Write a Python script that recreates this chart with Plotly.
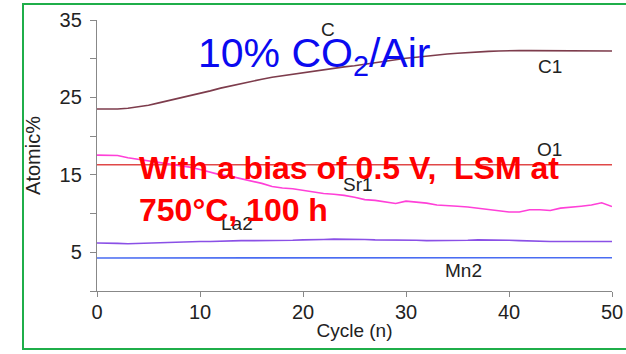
import plotly.graph_objects as go

cycles = list(range(0, 51))

c1 = [23.5, 23.5, 23.5, 23.6, 23.8, 24.0, 24.3, 24.6, 24.9, 25.2,
      25.5, 25.85, 26.2, 26.5, 26.8, 27.1, 27.35, 27.6, 27.8, 28.0,
      28.2, 28.4, 28.6, 28.8, 28.95, 29.1, 29.3, 29.5, 29.7, 29.9,
      30.05, 30.2, 30.35, 30.5, 30.6, 30.7, 30.8, 30.9, 30.95, 31.0,
      31.05, 31.05, 31.05, 31.05, 31.05, 31.0, 31.0, 31.0, 31.0, 31.0, 31.0]

o1 = [16.3] * 51

sr1 = [17.55, 17.55, 17.5, 17.2, 17.0, 16.8, 16.6, 16.4, 16.2, 16.0,
       15.7, 15.3, 15.0, 14.8, 14.5, 14.2, 13.9, 13.5, 13.3, 13.2,
       13.0, 12.8, 12.6, 12.5, 12.35, 12.1, 11.8, 11.7, 11.5, 11.3,
       11.6, 11.5, 11.35, 11.1, 11.05, 10.95, 10.85, 10.7, 10.55, 10.4,
       10.2, 10.2, 10.5, 10.5, 10.4, 10.7, 10.8, 10.95, 11.1, 11.4, 10.9]

la2 = [6.2, 6.2, 6.15, 6.1, 6.15, 6.2, 6.25, 6.3, 6.3, 6.35,
       6.4, 6.4, 6.45, 6.5, 6.5, 6.5, 6.5, 6.55, 6.55, 6.55,
       6.6, 6.6, 6.65, 6.7, 6.7, 6.65, 6.65, 6.6, 6.6, 6.55,
       6.55, 6.55, 6.5, 6.5, 6.55, 6.55, 6.55, 6.6, 6.6, 6.6,
       6.55, 6.5, 6.45, 6.4, 6.4, 6.4, 6.4, 6.4, 6.35, 6.33, 6.4]

mn2 = [4.27, 4.27, 4.28, 4.28, 4.29, 4.3, 4.3, 4.3, 4.31, 4.31,
       4.32, 4.32, 4.33, 4.33, 4.33, 4.34, 4.34, 4.34, 4.35, 4.35,
       4.35, 4.35, 4.35, 4.35, 4.35, 4.35, 4.34, 4.34, 4.34, 4.34,
       4.33, 4.33, 4.33, 4.33, 4.33, 4.32, 4.32, 4.32, 4.32, 4.31,
       4.31, 4.31, 4.3, 4.3, 4.3, 4.3, 4.3, 4.3, 4.3, 4.3, 4.3]

x_ticks = [0, 10, 20, 30, 40, 50]
y_ticks = [5, 15, 25, 35]

series = [
    ("C1", c1, "#7d3c4c"),
    ("O1", o1, "#e04848"),
    ("Sr1", sr1, "#ff40d8"),
    ("La2", la2, "#8a50e6"),
    ("Mn2", mn2, "#4a6cf2"),
]

fig = go.Figure()
for name, vals, col in series:
    fig.add_trace(go.Scatter(x=cycles, y=vals, mode="lines", name=name,
                             line=dict(color=col, width=1.6)))

L, R, T, B = 97, 14, 20, 63
W, H = 626, 354
pw, ph = W - L - R, H - T - B


def px(xp):
    return (xp - L) / pw


def py(yp):
    return (H - B - yp) / ph


label_font = dict(family="Liberation Sans, Arial, sans-serif", size=19, color="#222222")
annos = [
    ("C", 328, 29),
    ("C1", 550, 66),
    ("O1", 549, 149),
    ("Sr1", 358, 184),
    ("La2", 237, 223),
    ("Mn2", 463, 270),
]
annotations = []
for t, xp, yp in annos:
    annotations.append(dict(text=t, x=px(xp), y=py(yp), xref="paper", yref="paper",
                            xanchor="center", yanchor="middle", showarrow=False,
                            font=label_font))

annotations.append(dict(text="10% CO<sub>2</sub>/Air", x=px(196), y=py(56),
                        xref="paper", yref="paper", xanchor="left", yanchor="middle",
                        showarrow=False,
                        font=dict(family="Liberation Sans, Arial, sans-serif", size=41,
                                  color="#0a0af0")))
annotations.append(dict(text="<b>With a bias of 0.5 V,&nbsp; LSM at<br>750°C, 100 h</b>",
                        x=px(137), y=py(189), xref="paper", yref="paper",
                        xanchor="left", yanchor="middle", align="left", showarrow=False,
                        font=dict(family="Liberation Sans, Arial, sans-serif", size=32,
                                  color="#ff0000")))

fig.update_layout(
    width=W, height=H,
    margin=dict(l=L, r=R, t=T, b=B, pad=0, autoexpand=False),
    paper_bgcolor="white", plot_bgcolor="white",
    showlegend=False,
    font=dict(family="Liberation Sans, Arial, sans-serif", color="#222222"),
    annotations=annotations,
    shapes=[dict(type="rect", xref="paper", yref="paper",
                 x0=px(23), x1=px(632), y0=py(349), y1=py(4),
                 line=dict(color="#1fae4a", width=2), fillcolor="rgba(0,0,0,0)",
                 layer="above")],
)

fig.update_xaxes(range=[0, 50], tickvals=x_ticks, ticks="outside", ticklen=5,
                 tickcolor="#888888", showline=True, linecolor="#888888", linewidth=1.3,
                 showgrid=False, zeroline=False, automargin=False,
                 ticklabelstandoff=-2,
                 tickfont=dict(size=20, color="#222222"),
                 title=dict(text="Cycle (n)", font=dict(size=19, color="#222222"), standoff=1))
fig.update_yaxes(range=[0, 35], tickvals=y_ticks, ticks="outside", ticklen=6,
                 tickcolor="#888888", showline=True, linecolor="#888888", linewidth=1.3,
                 showgrid=False, zeroline=False, automargin=False,
                 ticklabelstandoff=4,
                 minor=dict(dtick=5, tick0=0, ticks="outside", ticklen=6, tickcolor="#888888"),
                 tickfont=dict(size=20, color="#222222"),
                 title=dict(text="Atomic%", font=dict(size=20, color="#222222"), standoff=13))

fig.write_html("out.html")
